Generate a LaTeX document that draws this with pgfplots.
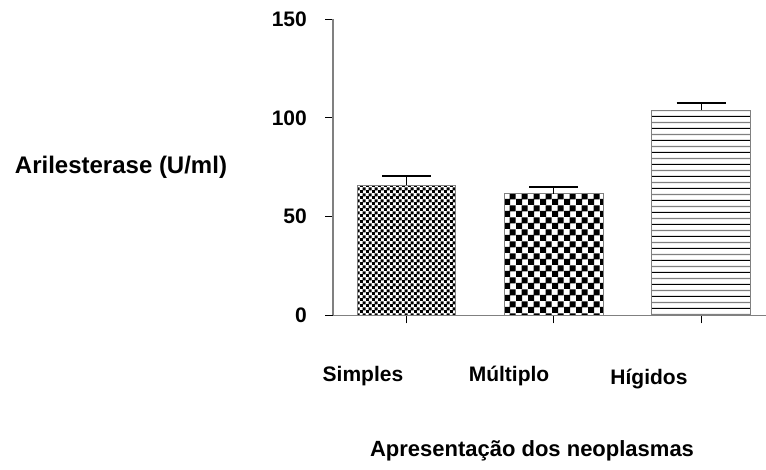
\documentclass[border=0pt]{standalone}
\usepackage{pgfplots}
\pgfplotsset{compat=1.18}
\usepackage{fontspec}
\setmainfont{Liberation Sans}
\usetikzlibrary{patterns}

\pgfdeclarepatternformonly{finecheck}{\pgfpointorigin}{\pgfpoint{6pt}{6pt}}{\pgfpoint{6pt}{6pt}}{%
  \pgfpathrectangle{\pgfpointorigin}{\pgfpoint{3.4pt}{3.4pt}}%
  \pgfpathrectangle{\pgfpoint{3pt}{3pt}}{\pgfpoint{3.4pt}{3.4pt}}%
  \pgfusepath{fill}}
\pgfdeclarepatternformonly{coarsecheck}{\pgfpointorigin}{\pgfpoint{12pt}{12pt}}{\pgfpoint{12pt}{12pt}}{%
  \pgfpathrectangle{\pgfpointorigin}{\pgfpoint{6.6pt}{6.6pt}}%
  \pgfpathrectangle{\pgfpoint{6pt}{6pt}}{\pgfpoint{6.6pt}{6.6pt}}%
  \pgfusepath{fill}}
\pgfdeclarepatterninherentlycolored{hstripes}{\pgfpoint{0pt}{0pt}}{\pgfpoint{10pt}{12.4pt}}{\pgfpoint{10pt}{12.4pt}}{%
  \pgfsetlinewidth{1.2pt}%
  \pgfsetstrokecolor{black}%
  \pgfpathmoveto{\pgfpoint{0pt}{0.6pt}}\pgfpathlineto{\pgfpoint{10pt}{0.6pt}}\pgfusepath{stroke}%
  \pgfsetstrokecolor{gray}%
  \pgfpathmoveto{\pgfpoint{0pt}{6.8pt}}\pgfpathlineto{\pgfpoint{10pt}{6.8pt}}\pgfusepath{stroke}}

\definecolor{axgray}{RGB}{128,128,128}

\begin{document}
\begin{tikzpicture}
\useasboundingbox (0,0) rectangle (766pt,-469pt);
\begin{axis}[
  at={(333pt,-315.3pt)}, anchor=south west,
  scale only axis, width=433pt, height=296pt,
  xmin=-0.503, xmax=2.442, ymin=0, ymax=150,
  enlargelimits=false, clip=false,
  axis x line*=bottom, axis y line*=left,
  axis line style={axgray, line width=1.5pt, -},
  ybar, bar width=0.667, bar shift=0pt,
  xtick={0,1,2}, xticklabels={},
  ytick={0,50,100,150},
  tick align=outside, major tick length=8pt,
  tick style={black, line width=1pt},
  /pgf/number format/assume math mode=true,
  yticklabel style={font=\fontsize{21}{21}\selectfont\bfseries, inner sep=0pt, xshift=-18pt},
  error bars/y dir=plus, error bars/y explicit,
  error bars/error bar style={black, line width=1pt},
  error bars/error mark options={rotate=90, mark size=24.5pt, line width=2pt, black},
]
\addplot[draw=axgray, line width=1pt, pattern=finecheck, pattern color=black]
  coordinates {(0,65.9) +- (0,4.9)};
\addplot[draw=axgray, line width=1pt, pattern=coarsecheck, pattern color=black]
  coordinates {(1,61.5) +- (0,3.5)};
\addplot[draw=axgray, line width=1pt, pattern=hstripes]
  coordinates {(2,104.0) +- (0,3.6)};
\node[anchor=base, yshift=-66.5pt, font=\fontsize{21}{21}\selectfont\bfseries] at (axis cs:-0.299,0) {Simples};
\node[anchor=base, yshift=-65.7pt, font=\fontsize{21}{21}\selectfont\bfseries] at (axis cs:0.694,0) {Múltiplo};
\node[anchor=base, yshift=-69pt, font=\fontsize{21}{21}\selectfont\bfseries] at (axis cs:1.646,0) {Hígidos};
\end{axis}
\node[anchor=base, font=\fontsize{24}{24}\selectfont\bfseries] at (121pt,-173pt) {Arilesterase (U/ml)};
\node[anchor=base, font=\fontsize{22}{22}\selectfont\bfseries] at (532pt,-456pt) {Apresentação dos neoplasmas};
\end{tikzpicture}
\end{document}
